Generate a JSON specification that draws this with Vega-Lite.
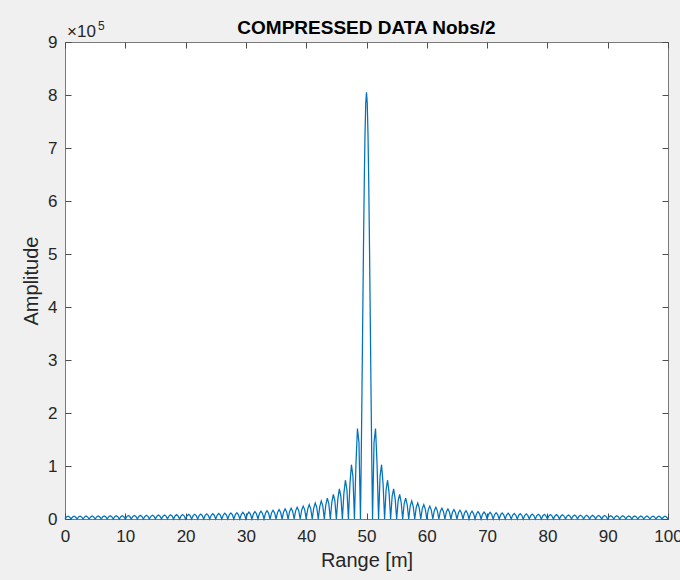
{
  "$schema": "https://vega.github.io/schema/vega-lite/v6.json",
  "width": 603,
  "height": 477,
  "autosize": {"type": "none"},
  "padding": {"left": 65, "top": 42, "right": 12, "bottom": 61},
  "background": "#f0f0f0",
  "config": {
    "view": {"stroke": "#7a7a7a", "strokeWidth": 1, "fill": "white"},
    "font": "Liberation Sans",
    "axis": {
      "grid": false,
      "domain": false,
      "labelFont": "Liberation Sans",
      "titleFont": "Liberation Sans",
      "labelFontSize": 17,
      "titleFontSize": 20,
      "titleFontWeight": "normal",
      "labelColor": "#262626",
      "titleColor": "#262626",
      "tickColor": "#4d4d4d",
      "tickSize": -6,
      "tickWidth": 1,
      "labelFlush": false,
      "labelOverlap": false
    }
  },
  "title": {"text": "COMPRESSED DATA Nobs/2", "fontSize": 19, "fontWeight": "bold", "color": "#000000", "font": "Liberation Sans", "offset": 7, "dy": 25, "anchor": "middle"},
  "data": {"values": [
{"r":0,"a":0},{"r":0.25,"a":3642},{"r":0.5,"a":5177},{"r":0.75,"a":3679},{"r":1,"a":0},
{"r":1.25,"a":3717},{"r":1.5,"a":5283},{"r":1.75,"a":3755},{"r":2,"a":0},
{"r":2.25,"a":3795},{"r":2.5,"a":5395},{"r":2.75,"a":3835},{"r":3,"a":0},
{"r":3.25,"a":3876},{"r":3.5,"a":5511},{"r":3.75,"a":3918},{"r":4,"a":0},
{"r":4.25,"a":3960},{"r":4.5,"a":5632},{"r":4.75,"a":4004},{"r":5,"a":0},
{"r":5.25,"a":4049},{"r":5.5,"a":5758},{"r":5.75,"a":4095},{"r":6,"a":0},
{"r":6.25,"a":4141},{"r":6.5,"a":5891},{"r":6.75,"a":4189},{"r":7,"a":0},
{"r":7.25,"a":4238},{"r":7.5,"a":6029},{"r":7.75,"a":4288},{"r":8,"a":0},
{"r":8.25,"a":4340},{"r":8.5,"a":6174},{"r":8.75,"a":4392},{"r":9,"a":0},
{"r":9.25,"a":4446},{"r":9.5,"a":6327},{"r":9.75,"a":4502},{"r":10,"a":0},
{"r":10.25,"a":4558},{"r":10.5,"a":6487},{"r":10.75,"a":4616},{"r":11,"a":0},
{"r":11.25,"a":4676},{"r":11.5,"a":6656},{"r":11.75,"a":4737},{"r":12,"a":0},
{"r":12.25,"a":4800},{"r":12.5,"a":6833},{"r":12.75,"a":4864},{"r":13,"a":0},
{"r":13.25,"a":4930},{"r":13.5,"a":7020},{"r":13.75,"a":4998},{"r":14,"a":0},
{"r":14.25,"a":5068},{"r":14.5,"a":7218},{"r":14.75,"a":5140},{"r":15,"a":0},
{"r":15.25,"a":5214},{"r":15.5,"a":7427},{"r":15.75,"a":5290},{"r":16,"a":0},
{"r":16.25,"a":5369},{"r":16.5,"a":7649},{"r":16.75,"a":5449},{"r":17,"a":0},
{"r":17.25,"a":5532},{"r":17.5,"a":7884},{"r":17.75,"a":5618},{"r":18,"a":0},
{"r":18.25,"a":5707},{"r":18.5,"a":8135},{"r":18.75,"a":5798},{"r":19,"a":0},
{"r":19.25,"a":5892},{"r":19.5,"a":8401},{"r":19.75,"a":5990},{"r":20,"a":0},
{"r":20.25,"a":6090},{"r":20.5,"a":8686},{"r":20.75,"a":6194},{"r":21,"a":0},
{"r":21.25,"a":6302},{"r":21.5,"a":8991},{"r":21.75,"a":6414},{"r":22,"a":0},
{"r":22.25,"a":6529},{"r":22.5,"a":9318},{"r":22.75,"a":6649},{"r":23,"a":0},
{"r":23.25,"a":6773},{"r":23.5,"a":9669},{"r":23.75,"a":6902},{"r":24,"a":0},
{"r":24.25,"a":7036},{"r":24.5,"a":10049},{"r":24.75,"a":7176},{"r":25,"a":0},
{"r":25.25,"a":7321},{"r":25.5,"a":10459},{"r":25.75,"a":7472},{"r":26,"a":0},
{"r":26.25,"a":7629},{"r":26.5,"a":10904},{"r":26.75,"a":7793},{"r":27,"a":0},
{"r":27.25,"a":7964},{"r":27.5,"a":11388},{"r":27.75,"a":8143},{"r":28,"a":0},
{"r":28.25,"a":8330},{"r":28.5,"a":11918},{"r":28.75,"a":8526},{"r":29,"a":0},
{"r":29.25,"a":8732},{"r":29.5,"a":12500},{"r":29.75,"a":8948},{"r":30,"a":0},
{"r":30.25,"a":9174},{"r":30.5,"a":13140},{"r":30.75,"a":9412},{"r":31,"a":0},
{"r":31.25,"a":9663},{"r":31.5,"a":13851},{"r":31.75,"a":9928},{"r":32,"a":0},
{"r":32.25,"a":10208},{"r":32.5,"a":14642},{"r":32.75,"a":10504},{"r":33,"a":0},
{"r":33.25,"a":10817},{"r":33.5,"a":15530},{"r":33.75,"a":11150},{"r":34,"a":0},
{"r":34.25,"a":11504},{"r":34.5,"a":16532},{"r":34.75,"a":11881},{"r":35,"a":0},
{"r":35.25,"a":12284},{"r":35.5,"a":17672},{"r":35.75,"a":12715},{"r":36,"a":0},
{"r":36.25,"a":13177},{"r":36.5,"a":18981},{"r":36.75,"a":13675},{"r":37,"a":0},
{"r":37.25,"a":14211},{"r":37.5,"a":20499},{"r":37.75,"a":14791},{"r":38,"a":0},
{"r":38.25,"a":15420},{"r":38.5,"a":22282},{"r":38.75,"a":16106},{"r":39,"a":0},
{"r":39.25,"a":16855},{"r":39.5,"a":24404},{"r":39.75,"a":17677},{"r":40,"a":0},
{"r":40.25,"a":18583},{"r":40.5,"a":26973},{"r":40.75,"a":19588},{"r":41,"a":0},
{"r":41.25,"a":20707},{"r":41.5,"a":30146},{"r":41.75,"a":21962},{"r":42,"a":0},
{"r":42.25,"a":23379},{"r":42.5,"a":34165},{"r":42.75,"a":24991},{"r":43,"a":0},
{"r":43.25,"a":26842},{"r":43.5,"a":39422},{"r":43.75,"a":28990},{"r":44,"a":0},
{"r":44.25,"a":31511},{"r":44.5,"a":46589},{"r":44.75,"a":34512},{"r":45,"a":0},
{"r":45.25,"a":38145},{"r":45.5,"a":56942},{"r":45.75,"a":42632},{"r":46,"a":0},
{"r":46.25,"a":48317},{"r":46.5,"a":73211},{"r":46.75,"a":55750},{"r":47,"a":0},
{"r":47.25,"a":65886},{"r":47.5,"a":102496},{"r":47.75,"a":80528},{"r":48,"a":0},
{"r":48.25,"a":103535},{"r":48.5,"a":170827},{"r":48.75,"a":144950},{"r":49,"a":0},
{"r":49.125,"a":112100},{"r":49.25,"a":241600},{"r":49.375,"a":378800},{"r":49.5,"a":512500},{"r":49.625,"a":631300},{"r":49.75,"a":724700},{"r":49.875,"a":784500},{"r":50,"a":805000},
{"r":50.125,"a":784500},{"r":50.25,"a":724700},{"r":50.375,"a":631300},{"r":50.5,"a":512500},{"r":50.625,"a":378800},{"r":50.75,"a":241600},{"r":50.875,"a":112100},{"r":51,"a":0},
{"r":51.25,"a":144950},{"r":51.5,"a":170827},{"r":51.75,"a":103535},{"r":52,"a":0},
{"r":52.25,"a":80528},{"r":52.5,"a":102496},{"r":52.75,"a":65886},{"r":53,"a":0},
{"r":53.25,"a":55750},{"r":53.5,"a":73211},{"r":53.75,"a":48317},{"r":54,"a":0},
{"r":54.25,"a":42632},{"r":54.5,"a":56942},{"r":54.75,"a":38145},{"r":55,"a":0},
{"r":55.25,"a":34512},{"r":55.5,"a":46589},{"r":55.75,"a":31511},{"r":56,"a":0},
{"r":56.25,"a":28990},{"r":56.5,"a":39422},{"r":56.75,"a":26842},{"r":57,"a":0},
{"r":57.25,"a":24991},{"r":57.5,"a":34165},{"r":57.75,"a":23379},{"r":58,"a":0},
{"r":58.25,"a":21962},{"r":58.5,"a":30146},{"r":58.75,"a":20707},{"r":59,"a":0},
{"r":59.25,"a":19588},{"r":59.5,"a":26973},{"r":59.75,"a":18583},{"r":60,"a":0},
{"r":60.25,"a":17677},{"r":60.5,"a":24404},{"r":60.75,"a":16855},{"r":61,"a":0},
{"r":61.25,"a":16106},{"r":61.5,"a":22282},{"r":61.75,"a":15420},{"r":62,"a":0},
{"r":62.25,"a":14791},{"r":62.5,"a":20499},{"r":62.75,"a":14211},{"r":63,"a":0},
{"r":63.25,"a":13675},{"r":63.5,"a":18981},{"r":63.75,"a":13177},{"r":64,"a":0},
{"r":64.25,"a":12715},{"r":64.5,"a":17672},{"r":64.75,"a":12284},{"r":65,"a":0},
{"r":65.25,"a":11881},{"r":65.5,"a":16532},{"r":65.75,"a":11504},{"r":66,"a":0},
{"r":66.25,"a":11150},{"r":66.5,"a":15530},{"r":66.75,"a":10817},{"r":67,"a":0},
{"r":67.25,"a":10504},{"r":67.5,"a":14642},{"r":67.75,"a":10208},{"r":68,"a":0},
{"r":68.25,"a":9928},{"r":68.5,"a":13851},{"r":68.75,"a":9663},{"r":69,"a":0},
{"r":69.25,"a":9412},{"r":69.5,"a":13140},{"r":69.75,"a":9174},{"r":70,"a":0},
{"r":70.25,"a":8948},{"r":70.5,"a":12500},{"r":70.75,"a":8732},{"r":71,"a":0},
{"r":71.25,"a":8526},{"r":71.5,"a":11918},{"r":71.75,"a":8330},{"r":72,"a":0},
{"r":72.25,"a":8143},{"r":72.5,"a":11388},{"r":72.75,"a":7964},{"r":73,"a":0},
{"r":73.25,"a":7793},{"r":73.5,"a":10904},{"r":73.75,"a":7629},{"r":74,"a":0},
{"r":74.25,"a":7472},{"r":74.5,"a":10459},{"r":74.75,"a":7321},{"r":75,"a":0},
{"r":75.25,"a":7176},{"r":75.5,"a":10049},{"r":75.75,"a":7036},{"r":76,"a":0},
{"r":76.25,"a":6902},{"r":76.5,"a":9669},{"r":76.75,"a":6773},{"r":77,"a":0},
{"r":77.25,"a":6649},{"r":77.5,"a":9318},{"r":77.75,"a":6529},{"r":78,"a":0},
{"r":78.25,"a":6414},{"r":78.5,"a":8991},{"r":78.75,"a":6302},{"r":79,"a":0},
{"r":79.25,"a":6194},{"r":79.5,"a":8686},{"r":79.75,"a":6090},{"r":80,"a":0},
{"r":80.25,"a":5990},{"r":80.5,"a":8401},{"r":80.75,"a":5892},{"r":81,"a":0},
{"r":81.25,"a":5798},{"r":81.5,"a":8135},{"r":81.75,"a":5707},{"r":82,"a":0},
{"r":82.25,"a":5618},{"r":82.5,"a":7884},{"r":82.75,"a":5532},{"r":83,"a":0},
{"r":83.25,"a":5449},{"r":83.5,"a":7649},{"r":83.75,"a":5369},{"r":84,"a":0},
{"r":84.25,"a":5290},{"r":84.5,"a":7427},{"r":84.75,"a":5214},{"r":85,"a":0},
{"r":85.25,"a":5140},{"r":85.5,"a":7218},{"r":85.75,"a":5068},{"r":86,"a":0},
{"r":86.25,"a":4998},{"r":86.5,"a":7020},{"r":86.75,"a":4930},{"r":87,"a":0},
{"r":87.25,"a":4864},{"r":87.5,"a":6833},{"r":87.75,"a":4800},{"r":88,"a":0},
{"r":88.25,"a":4737},{"r":88.5,"a":6656},{"r":88.75,"a":4676},{"r":89,"a":0},
{"r":89.25,"a":4616},{"r":89.5,"a":6487},{"r":89.75,"a":4558},{"r":90,"a":0},
{"r":90.25,"a":4502},{"r":90.5,"a":6327},{"r":90.75,"a":4446},{"r":91,"a":0},
{"r":91.25,"a":4392},{"r":91.5,"a":6174},{"r":91.75,"a":4340},{"r":92,"a":0},
{"r":92.25,"a":4288},{"r":92.5,"a":6029},{"r":92.75,"a":4238},{"r":93,"a":0},
{"r":93.25,"a":4189},{"r":93.5,"a":5891},{"r":93.75,"a":4141},{"r":94,"a":0},
{"r":94.25,"a":4095},{"r":94.5,"a":5758},{"r":94.75,"a":4049},{"r":95,"a":0},
{"r":95.25,"a":4004},{"r":95.5,"a":5632},{"r":95.75,"a":3960},{"r":96,"a":0},
{"r":96.25,"a":3918},{"r":96.5,"a":5511},{"r":96.75,"a":3876},{"r":97,"a":0},
{"r":97.25,"a":3835},{"r":97.5,"a":5395},{"r":97.75,"a":3795},{"r":98,"a":0},
{"r":98.25,"a":3755},{"r":98.5,"a":5283},{"r":98.75,"a":3717},{"r":99,"a":0},
{"r":99.25,"a":3679},{"r":99.5,"a":5177},{"r":99.75,"a":3642},{"r":100,"a":0}
  ]},
  "layer": [
    {
      "mark": {"type": "line", "color": "#0072BD", "strokeWidth": 1.25},
      "encoding": {
        "x": {"field": "r", "type": "quantitative", "scale": {"domain": [0, 100], "nice": false},
              "axis": {"orient": "bottom", "values": [0,10,20,30,40,50,60,70,80,90,100], "title": "Range [m]", "labelPadding": 15, "titlePadding": 6}},
        "y": {"field": "a", "type": "quantitative", "scale": {"domain": [0, 900000], "nice": false},
              "axis": {"orient": "left", "values": [0,100000,200000,300000,400000,500000,600000,700000,800000,900000], "labelExpr": "datum.value / 100000", "title": "Amplitude", "labelPadding": 14, "titlePadding": 6}}
      }
    },
    {
      "data": {"values": [{"t": "×10"}]},
      "mark": {"type": "text", "align": "left", "baseline": "alphabetic", "fontSize": 17, "color": "#262626", "dx": 2, "dy": -5},
      "encoding": {
        "x": {"datum": 0, "type": "quantitative", "axis": {"orient": "top", "values": [0,10,20,30,40,50,60,70,80,90,100], "labels": false, "title": null}},
        "y": {"datum": 900000, "type": "quantitative", "axis": {"orient": "right", "values": [0,100000,200000,300000,400000,500000,600000,700000,800000,900000], "labels": false, "title": null}},
        "text": {"field": "t"}
      }
    },
    {
      "data": {"values": [{"t": "5"}]},
      "mark": {"type": "text", "align": "left", "baseline": "alphabetic", "fontSize": 12, "color": "#262626", "dx": 33, "dy": -12},
      "encoding": {
        "x": {"datum": 0, "type": "quantitative", "axis": null},
        "y": {"datum": 900000, "type": "quantitative", "axis": null},
        "text": {"field": "t"}
      }
    }
  ],
  "resolve": {"axis": {"x": "independent", "y": "independent"}}
}
